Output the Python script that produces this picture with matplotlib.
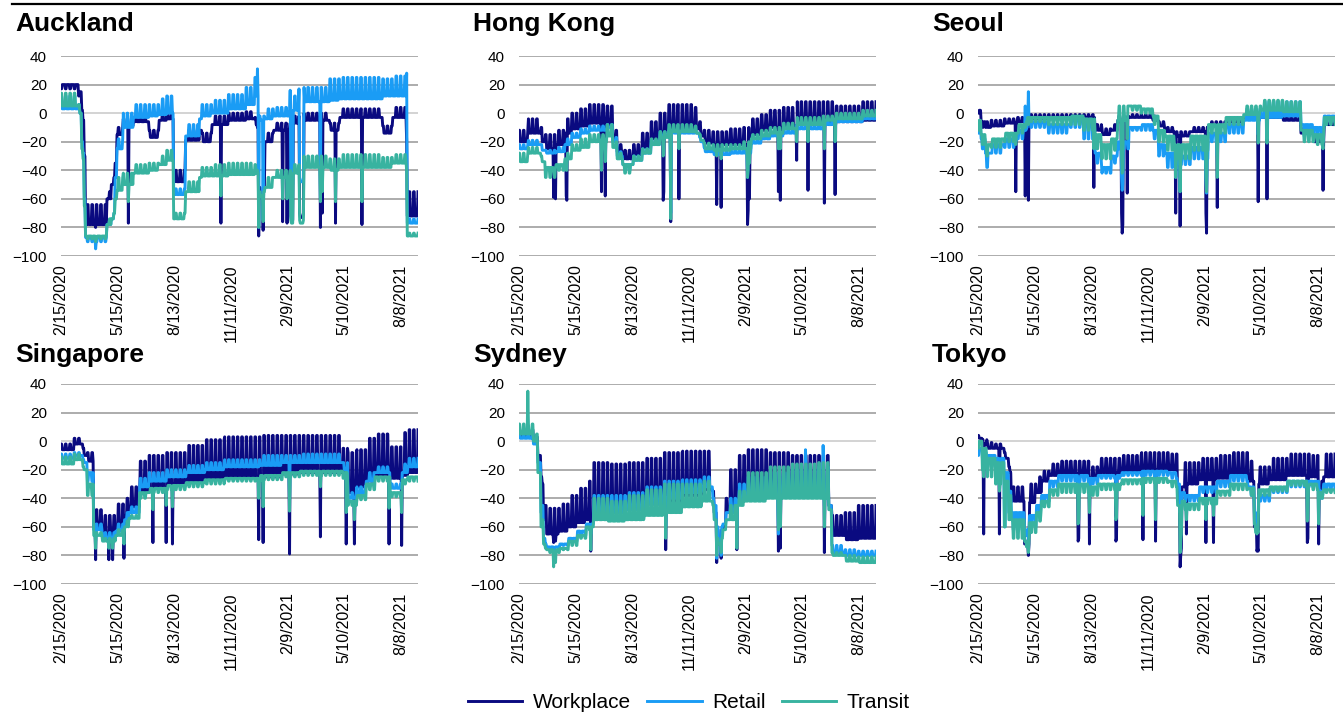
import numpy as np
import pandas as pd
import matplotlib.pyplot as plt
from matplotlib.lines import Line2D

plt.rcParams['font.family'] = ['Liberation Sans', 'DejaVu Sans']

start, end = '2020-02-15', '2021-09-04'
tick_dates = ['2020-02-15', '2020-05-15', '2020-08-13', '2020-11-11',
              '2021-02-09', '2021-05-10', '2021-08-08']
tick_labels = ['2/15/2020', '5/15/2020', '8/13/2020', '11/11/2020',
               '2/9/2021', '5/10/2021', '8/8/2021']

# Each city: periods (start dates) with weekday / weekend readings per series,
# plus single-day readings for public holidays and other one-off days.

# Auckland
akl_dates = ['2020-02-15', '2020-03-14', '2020-03-19', '2020-03-23', '2020-03-25', '2020-04-28',
             '2020-05-05', '2020-05-11', '2020-05-14', '2020-05-24', '2020-06-09', '2020-07-04',
             '2020-07-20', '2020-08-01', '2020-08-12', '2020-08-31', '2020-09-22', '2020-09-26',
             '2020-10-12', '2020-11-07', '2020-12-05', '2020-12-19', '2020-12-26', '2021-01-04',
             '2021-01-18', '2021-02-14', '2021-02-18', '2021-02-28', '2021-03-07', '2021-04-17',
             '2021-05-03', '2021-07-10', '2021-07-26', '2021-08-18']
akl_work_wd = [20, 15, 2, -30, -78, -60, -50, -35, -15, -9, -6, -17, -5, -4, -48, -19, -12, -20,
               -8, -5, -4, -8, -58, -20, -12, -75, -7, -73, -5, -12, -3, -14, -3, -72]
akl_work_we = [17, 12, -5, -40, -64, -55, -45, -30, -10, -4, -1, -12, 0, 1, -40, -12, -5, -14,
               -2, 0, 1, -3, -52, -14, -7, -72, -2, -70, 0, -7, 3, -9, 4, -55]
akl_retail_wd = [3, 0, -20, -60, -87, -78, -74, -45, -25, -10, -3, -2, -1, 0, -57, -16, -4, -2,
                 0, 3, 6, 12, -5, -4, -2, -50, 2, -48, 8, 9, 10, 12, 12, -77]
akl_retail_we = [12, 6, -28, -65, -90, -75, -70, -40, -18, 0, 6, 6, 10, 12, -53, -8, 4, 6,
                 9, 13, 18, 25, -2, 3, 4, -45, 12, -45, 18, 24, 25, 24, 26, -74]
akl_transit_wd = [5, 0, -25, -65, -86, -78, -74, -60, -54, -50, -42, -40, -36, -33, -74, -55, -45, -44,
                  -44, -43, -43, -42, -58, -52, -45, -77, -42, -77, -38, -40, -38, -38, -35, -86]
akl_transit_we = [14, 6, -32, -70, -88, -74, -70, -55, -45, -42, -36, -35, -30, -26, -70, -48, -40, -38,
                  -36, -35, -35, -36, -55, -45, -40, -75, -36, -75, -30, -32, -29, -31, -29, -84]
akl_hol = ['2020-04-10', '2020-06-01', '2020-10-26', '2020-12-23', '2020-12-25', '2021-01-01',
           '2021-02-01', '2021-02-08', '2021-02-13', '2021-02-27', '2021-04-02', '2021-04-05',
           '2021-04-26', '2021-06-07', '2021-08-17']
akl_hol_work = [-80, -77, -77, -10, -86, -82, -76, -77, None, None, -80, -70, -77, -78, -20]
akl_hol_retail = [-95, None, None, 31, -80, -75, None, None, 16, 17, -60, None, None, None, 28]
akl_hol_transit = [-90, -62, -58, -40, -80, -76, -60, -60, None, None, -62, -55, -62, -62, -40]

# Hong Kong
hkg_dates = ['2020-02-15', '2020-03-01', '2020-03-21', '2020-03-28', '2020-04-14', '2020-04-28',
             '2020-05-09', '2020-05-23', '2020-06-06', '2020-07-04', '2020-07-13', '2020-07-20',
             '2020-07-29', '2020-08-15', '2020-08-29', '2020-09-12', '2020-09-26', '2020-10-10',
             '2020-11-21', '2020-11-28', '2020-12-05', '2020-12-19', '2021-01-16', '2021-02-01',
             '2021-02-18', '2021-03-06', '2021-03-20', '2021-04-10', '2021-05-01', '2021-06-12',
             '2021-07-03', '2021-08-14']
hkg_work_wd = [-20, -14, -20, -25, -22, -14, -11, -9, -7, -8, -18, -27, -32, -29, -24, -18,
               -13, -11, -11, -16, -21, -22, -22, -22, -15, -12, -10, -9, -8, -8, -6, -5]
hkg_work_we = [-12, -4, -10, -15, -12, -4, 0, 3, 6, 5, -12, -22, -26, -22, -14, -6,
               0, 6, 4, -6, -12, -13, -11, -10, -4, -1, 2, 4, 8, 8, 5, 8]
hkg_retail_wd = [-25, -22, -26, -28, -27, -22, -17, -14, -12, -10, -20, -30, -36, -33, -28, -22,
                 -16, -14, -14, -20, -27, -29, -28, -28, -21, -18, -16, -14, -11, -8, -6, -4]
hkg_retail_we = [-22, -19, -22, -26, -24, -18, -14, -11, -9, -8, -17, -27, -40, -30, -25, -19,
                 -13, -12, -12, -17, -24, -26, -25, -25, -18, -15, -13, -11, -8, -5, -3, -2]
hkg_transit_wd = [-34, -28, -34, -38, -36, -32, -26, -24, -20, -16, -24, -32, -36, -33, -28, -22,
                  -17, -13, -14, -19, -25, -26, -25, -25, -18, -16, -14, -11, -8, -5, -4, -2]
hkg_transit_we = [-28, -24, -30, -45, -40, -28, -22, -18, -15, -8, -20, -28, -42, -30, -25, -18,
                  -13, -8, -9, -15, -21, -22, -22, -20, -15, -12, -10, -7, -3, -2, 0, 2]
hkg_hol = ['2020-04-10', '2020-04-13', '2020-04-30', '2020-05-01', '2020-06-25', '2020-07-01',
           '2020-10-01', '2020-10-02', '2020-10-13', '2020-10-26', '2020-12-25', '2021-01-01',
           '2021-02-12', '2021-02-13', '2021-02-15', '2021-04-02', '2021-04-05', '2021-05-01',
           '2021-05-19', '2021-06-14', '2021-07-01']
hkg_hol_work = [-59, -60, -58, -61, -55, -58, -61, -55, -76, -60, -64, -66, -78, -68, -60, -55,
                -61, -33, -54, -63, -57]
hkg_hol_retail = [None, None, None, None, None, None, None, None, -70, None, None, None, -45,
                  None, None, None, None, None, None, None, None]
hkg_hol_transit = [-40, -38, -40, -40, -40, -34, -30, -28, -74, -25, -30, -32, -45, -40, -35, -25,
                   -25, -20, -20, -25, -20]

# Seoul
sel_dates = ['2020-02-15', '2020-02-20', '2020-02-27', '2020-03-07', '2020-03-28', '2020-04-18',
             '2020-05-02', '2020-06-06', '2020-07-11', '2020-08-01', '2020-08-19', '2020-08-30',
             '2020-09-14', '2020-09-24', '2020-10-12', '2020-10-31', '2020-11-19', '2020-11-28',
             '2020-12-08', '2020-12-23', '2021-01-18', '2021-02-15', '2021-03-15', '2021-04-12',
             '2021-05-10', '2021-06-14', '2021-07-12', '2021-08-02', '2021-08-18']
sel_work_wd = [2, -6, -10, -9, -7, -6, -4, -4, -3, -3, -12, -15, -12, -5, -3, -3, -5, -9, -13, -16,
               -13, -9, -6, -4, -3, -5, -14, -20, -8]
sel_work_we = [0, -10, -6, -5, -4, -3, -1, -1, -1, -1, -8, -11, -8, -2, -1, -1, -2, -6, -10, -13,
               -10, -6, -3, -1, 1, -2, -10, -16, -5]
sel_retail_wd = [-10, -18, -28, -22, -18, -12, -6, -8, -4, -6, -28, -38, -30, -20, -10, -8, -12, -22,
                 -28, -30, -24, -14, -8, -5, -3, -2, -8, -10, -2]
sel_retail_we = [-14, -25, -38, -28, -24, -18, -10, -14, -10, -18, -35, -42, -35, -25, -12, -12, -18, -30,
                 -38, -36, -32, -20, -14, 3, 8, 8, -16, -18, -6]
sel_transit_wd = [-5, -15, -22, -18, -14, -8, -3, -3, -2, -4, -15, -22, -18, -5, 5, 3, -2, -12,
                  -16, -22, -16, -8, -3, -1, 2, 1, -12, -15, -3]
sel_transit_we = [-12, -22, -30, -24, -20, -14, -6, -8, -8, -12, -25, -32, -26, 5, 2, 0, -8, -20,
                  -26, -32, -26, -14, -8, 5, 9, 8, -20, -22, -8]
sel_hol = ['2020-04-15', '2020-04-30', '2020-05-05', '2020-08-17', '2020-09-30', '2020-10-01',
           '2020-10-02', '2020-10-09', '2020-12-25', '2021-01-01', '2021-02-11', '2021-02-12',
           '2021-03-01', '2021-05-05', '2021-05-19', '2021-08-16']
sel_hol_work = [-55, -58, -61, -52, -70, -84, -78, -56, -70, -79, -70, -84, -66, -62, -60, -54]
sel_hol_retail = [-20, 5, 15, -25, -45, -54, -50, -20, -45, -55, -45, -56, -30, -15, -18, -20]
sel_hol_transit = [-22, -10, -8, -25, -30, -42, -40, -18, -45, -55, -45, -55, -45, -21, -21, -25]

# Singapore
sgp_dates = ['2020-02-15', '2020-03-07', '2020-03-21', '2020-03-28', '2020-04-07', '2020-04-21',
             '2020-05-12', '2020-05-26', '2020-06-02', '2020-06-19', '2020-07-04', '2020-08-01',
             '2020-09-01', '2020-10-01', '2020-11-01', '2020-12-28', '2021-02-01', '2021-03-01',
             '2021-05-08', '2021-05-16', '2021-05-30', '2021-06-14', '2021-06-28', '2021-07-22',
             '2021-08-10', '2021-08-19']
sgp_work_wd = [-6, -2, -10, -14, -60, -65, -60, -52, -46, -36, -33, -30, -28, -26, -25, -25, -23,
               -22, -25, -36, -32, -28, -24, -26, -24, -22]
sgp_work_we = [-2, 2, -5, -8, -48, -52, -44, -40, -32, -14, -10, -8, -3, 1, 3, 4, 4,
               4, -5, -8, -6, 2, 5, -4, 6, 8]
sgp_retail_wd = [-12, -10, -15, -22, -62, -68, -63, -55, -50, -32, -28, -25, -22, -20, -18, -17, -15,
                 -15, -20, -40, -36, -28, -22, -33, -22, -18]
sgp_retail_we = [-9, -8, -13, -28, -58, -64, -58, -50, -46, -26, -22, -20, -17, -15, -13, -10, -10,
                 -9, -15, -36, -32, -22, -18, -30, -16, -12]
sgp_transit_wd = [-16, -13, -20, -30, -66, -70, -66, -60, -54, -36, -33, -31, -29, -27, -26, -24, -22,
                  -21, -22, -42, -38, -30, -25, -36, -27, -25]
sgp_transit_we = [-11, -9, -18, -38, -64, -68, -62, -56, -52, -40, -36, -34, -32, -30, -28, -27, -25,
                  -24, -26, -45, -41, -34, -28, -39, -30, -28]
sgp_hol = ['2020-04-10', '2020-05-01', '2020-05-07', '2020-05-25', '2020-07-10', '2020-07-31',
           '2020-08-10', '2020-12-25', '2021-01-01', '2021-02-12', '2021-04-02', '2021-05-13',
           '2021-05-26', '2021-07-20', '2021-08-09']
sgp_hol_work = [-83, -83, -83, -82, -71, -71, -72, -69, -71, -79, -67, -72, -72, -72, -73]
sgp_hol_retail = [-70, None, None, None, None, None, None, None, None, -40, None, None, None, None, None]
sgp_hol_transit = [-75, -75, -75, -72, -48, -45, -46, -40, -46, -49, -32, -50, -55, -47, -50]

# Sydney
syd_dates = ['2020-02-15', '2020-03-09', '2020-03-16', '2020-03-21', '2020-03-25', '2020-03-30',
             '2020-04-20', '2020-05-04', '2020-05-18', '2020-06-01', '2020-06-13', '2020-07-06',
             '2020-08-03', '2020-09-01', '2020-10-01', '2020-11-01', '2020-12-01', '2020-12-19',
             '2020-12-26', '2021-01-04', '2021-01-11', '2021-01-25', '2021-02-08', '2021-03-15',
             '2021-04-19', '2021-06-01', '2021-06-21', '2021-06-26', '2021-07-17', '2021-08-07']
syd_work_wd = [4, 0, -10, -30, -55, -65, -63, -60, -57, -55, -52, -50, -47, -44, -42, -38, -34, -50,
               -72, -60, -50, -40, -38, -35, -36, -36, -45, -66, -69, -68]
syd_work_we = [8, 3, -5, -25, -45, -47, -44, -38, -33, -28, -15, -16, -15, -12, -8, -7, -7, -35,
               -62, -40, -20, -10, -6, -8, -10, -10, -20, -52, -50, -45]
syd_retail_wd = [2, -2, -15, -45, -68, -74, -72, -68, -63, -58, -50, -50, -48, -44, -40, -36, -32, -45,
                 -70, -58, -50, -42, -40, -38, -38, -38, -45, -78, -80, -80]
syd_retail_we = [5, 0, -18, -50, -72, -75, -73, -70, -66, -60, -38, -38, -36, -32, -28, -27, -25, -40,
                 -60, -50, -40, -30, -25, -22, -20, -18, -35, -73, -76, -77]
syd_transit_wd = [5, 0, -22, -55, -72, -76, -75, -70, -66, -60, -55, -56, -55, -52, -50, -46, -42, -55,
                  -72, -62, -55, -45, -42, -40, -40, -40, -48, -80, -84, -85]
syd_transit_we = [12, 5, -25, -60, -75, -78, -76, -73, -68, -62, -40, -42, -38, -34, -30, -30, -28, -45,
                  -68, -55, -45, -35, -22, -18, -16, -15, -40, -78, -80, -81]
syd_hol = ['2020-02-29', '2020-04-10', '2020-04-13', '2020-06-08', '2020-10-05', '2020-12-25',
           '2021-01-01', '2021-01-26', '2021-04-02', '2021-04-05', '2021-05-15', '2021-06-12',
           '2021-06-14']
syd_hol_work = [8, -71, -70, -77, -76, -85, -82, -76, -77, -75, None, None, -78]
syd_hol_retail = [None, -80, None, -65, -60, -82, -80, -60, -65, None, -6, -3, -45]
syd_hol_transit = [35, -88, -85, -76, -68, -80, -78, -75, -62, -60, None, None, -60]

# Tokyo
tyo_dates = ['2020-02-15', '2020-02-22', '2020-03-01', '2020-03-14', '2020-03-28', '2020-04-04',
             '2020-04-08', '2020-04-29', '2020-05-07', '2020-05-18', '2020-05-26', '2020-06-08',
             '2020-06-22', '2020-08-10', '2020-08-24', '2020-10-01', '2020-11-01', '2020-12-14',
             '2020-12-28', '2021-01-04', '2021-01-09', '2021-02-01', '2021-03-01', '2021-03-22',
             '2021-04-19', '2021-04-29', '2021-05-06', '2021-05-24', '2021-06-21', '2021-07-26',
             '2021-08-10', '2021-08-17']
tyo_work_wd = [2, -2, -5, -5, -12, -22, -42, -72, -43, -36, -28, -24, -23, -26, -22, -21,
               -20, -20, -40, -32, -30, -27, -26, -24, -28, -60, -30, -27, -24, -25, -35, -25]
tyo_work_we = [4, 1, -1, -2, -8, -18, -32, -70, -30, -25, -21, -16, -14, -18, -12, -10,
               -8, -9, -50, -24, -15, -12, -10, -8, -14, -55, -18, -12, -9, -10, -28, -9]
tyo_retail_wd = [-5, -8, -10, -12, -22, -35, -50, -62, -52, -45, -38, -28, -24, -26, -24, -22,
                 -21, -22, -30, -36, -38, -32, -28, -24, -32, -50, -38, -33, -28, -28, -35, -30]
tyo_retail_we = [-10, -12, -18, -20, -60, -50, -62, -66, -60, -52, -42, -32, -28, -30, -26, -24,
                 -24, -26, -40, -40, -42, -36, -32, -28, -38, -58, -42, -36, -32, -32, -40, -34]
tyo_transit_wd = [0, -5, -12, -15, -28, -38, -55, -70, -57, -50, -42, -34, -30, -32, -30, -27,
                  -26, -28, -45, -42, -44, -40, -35, -30, -33, -58, -34, -32, -28, -30, -36, -34]
tyo_transit_we = [-5, -20, -25, -30, -60, -55, -68, -74, -64, -56, -46, -38, -36, -38, -34, -30,
                  -29, -32, -55, -46, -48, -44, -38, -34, -38, -64, -38, -35, -31, -34, -40, -36]
tyo_hol = ['2020-02-24', '2020-03-20', '2020-05-05', '2020-07-23', '2020-07-24', '2020-08-10',
           '2020-09-21', '2020-09-22', '2020-11-03', '2020-11-23', '2021-01-01', '2021-01-02',
           '2021-01-03', '2021-01-11', '2021-02-11', '2021-02-23', '2021-05-03', '2021-05-04',
           '2021-05-05', '2021-07-22', '2021-07-23', '2021-08-09']
tyo_hol_work = [-65, -65, -80, -70, -68, -72, -70, -68, -69, -70, -88, -80, -75, -65, -71, -71,
                -77, -75, -77, -71, -68, -72]
tyo_hol_retail = [-20, -25, -70, -35, -35, -35, -30, -30, -28, -30, -50, -45, -42, None, None, None,
                  -60, None, None, None, None, None]
tyo_hol_transit = [-25, -35, -78, -58, -55, -50, -55, -52, -52, -55, -78, -70, -65, -55, -55, -52,
                   -65, -62, -64, -56, -54, -58]

series_names = ['Workplace', 'Retail', 'Transit']
colors = ['#0a0a80', '#1a9cf5', '#38b3a0']

days = pd.date_range(start, end, freq='D')


def daily(seg_dates, wd, we, hol_dates, hol_vals):
    starts = pd.to_datetime(seg_dates).values
    k = np.searchsorted(starts, days.values, side='right') - 1
    weekend = days.dayofweek >= 5
    out = np.where(weekend, np.asarray(we, float)[k], np.asarray(wd, float)[k])
    for d, v in zip(hol_dates, hol_vals):
        if v is not None:
            out[days.get_loc(pd.Timestamp(d))] = v
    return out


panels = [
    ('Auckland', akl_dates, akl_hol,
     [(akl_work_wd, akl_work_we, akl_hol_work), (akl_retail_wd, akl_retail_we, akl_hol_retail),
      (akl_transit_wd, akl_transit_we, akl_hol_transit)]),
    ('Hong Kong', hkg_dates, hkg_hol,
     [(hkg_work_wd, hkg_work_we, hkg_hol_work), (hkg_retail_wd, hkg_retail_we, hkg_hol_retail),
      (hkg_transit_wd, hkg_transit_we, hkg_hol_transit)]),
    ('Seoul', sel_dates, sel_hol,
     [(sel_work_wd, sel_work_we, sel_hol_work), (sel_retail_wd, sel_retail_we, sel_hol_retail),
      (sel_transit_wd, sel_transit_we, sel_hol_transit)]),
    ('Singapore', sgp_dates, sgp_hol,
     [(sgp_work_wd, sgp_work_we, sgp_hol_work), (sgp_retail_wd, sgp_retail_we, sgp_hol_retail),
      (sgp_transit_wd, sgp_transit_we, sgp_hol_transit)]),
    ('Sydney', syd_dates, syd_hol,
     [(syd_work_wd, syd_work_we, syd_hol_work), (syd_retail_wd, syd_retail_we, syd_hol_retail),
      (syd_transit_wd, syd_transit_we, syd_hol_transit)]),
    ('Tokyo', tyo_dates, tyo_hol,
     [(tyo_work_wd, tyo_work_we, tyo_hol_work), (tyo_retail_wd, tyo_retail_we, tyo_hol_retail),
      (tyo_transit_wd, tyo_transit_we, tyo_hol_transit)]),
]

W, H = 1343, 714
fig = plt.figure(figsize=(W / 100, H / 100), dpi=100)

col_x = [61, 519, 978]
title_x = [15, 473, 932]
row_top = [56, 384]
title_base = [31, 362]
ax_w, ax_h = 357, 200

fig.add_artist(Line2D([12 / W, 1], [1 - 4 / H] * 2, color='black', lw=1.6))

handles = []
for i, (name, seg_dates, hol_dates, series) in enumerate(panels):
    r, c = divmod(i, 3)
    ax = fig.add_axes([col_x[c] / W, 1 - (row_top[r] + ax_h) / H, ax_w / W, ax_h / H])
    for (wd, we, hv), lab, col in zip(series, series_names, colors):
        ln, = ax.plot(days, daily(seg_dates, wd, we, hol_dates, hv), color=col, lw=2.1,
                      label=lab)
        if i == 0:
            handles.append(ln)
    ax.set_xlim(days[0], days[-1])
    ax.set_ylim(-100, 40)
    ax.set_yticks(np.arange(-100, 41, 20))
    ax.yaxis.grid(True, color='#a6a6a6', lw=1.3)
    ax.set_axisbelow(True)
    ax.axhline(0, color='#d9d9d9', lw=1.3, zorder=1)
    ax.set_xticks(pd.to_datetime(tick_dates))
    ax.set_xticklabels(tick_labels, rotation=90)
    for s in ax.spines.values():
        s.set_visible(False)
    ax.tick_params(axis='y', length=0, labelsize=11, pad=10)
    ax.tick_params(axis='x', length=0, labelsize=11.5, pad=6)
    fig.text(title_x[c] / W, 1 - title_base[r] / H, name, fontsize=19, weight='bold',
             va='baseline', ha='left')

fig.legend(handles, series_names, loc='center', bbox_to_anchor=(689 / W, 1 - 703 / H),
           ncol=3, frameon=False, fontsize=15, handlelength=2.6, handletextpad=0.5,
           columnspacing=0.8)

fig.savefig('out.png', dpi=100)
